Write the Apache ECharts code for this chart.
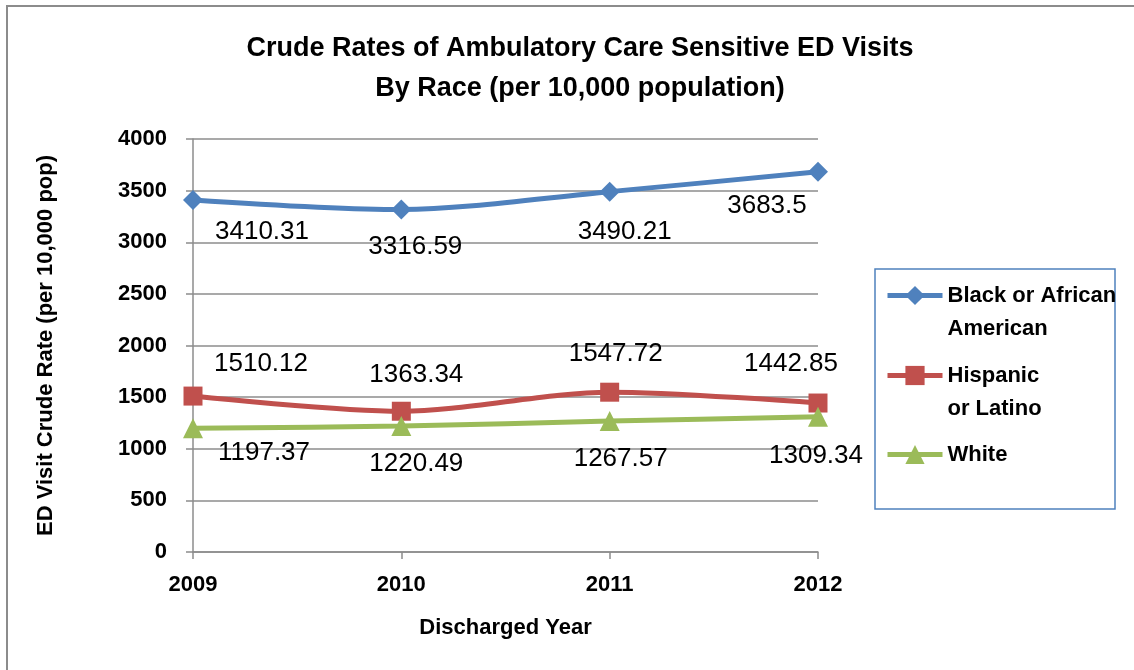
<!DOCTYPE html>
<html>
<head>
<meta charset="utf-8">
<title>Crude Rates of Ambulatory Care Sensitive ED Visits</title>
<script src="https://cdn.jsdelivr.net/npm/echarts@6/dist/echarts.min.js"></script>
<style>
  html, body { margin: 0; padding: 0; background: #fff; }
  #main { width: 1134px; height: 670px; }
</style>
</head>
<body>
<div id="main"></div>
<script>
const years = ['2009', '2010', '2011', '2012']
const black = [3410.31, 3316.59, 3490.21, 3683.5]
const hispanic = [1510.12, 1363.34, 1547.72, 1442.85]
const white = [1197.37, 1220.49, 1267.57, 1309.34]
const yTicks = [0, 500, 1000, 1500, 2000, 2500, 3000, 3500, 4000]

// label offsets, the labels were moved by hand in the original
const blackOff = [[69, 32], [14, 37], [15, 40], [-51, 34]]
const hispOff = [[68, -32], [15, -36], [6, -38], [-27, -39]]
const whiteOff = [[71, 24], [15, 38], [11, 38], [-2, 39]]

const FONT = 'Liberation Sans'
const GRID = '#8c8c8c'

function pts(vals, offs) {
  return vals.map((v, i) => ({
    value: v,
    label: { offset: offs[i] }
  }))
}

function lineSeries(name, vals, offs, color, symbol, size) {
  return {
    name: name,
    type: 'line',
    smooth: 0.3,
    data: pts(vals, offs),
    symbol: symbol,
    symbolSize: size,
    showAllSymbol: true,
    itemStyle: { color: color },
    lineStyle: { color: color, width: 5 },
    label: {
      show: true,
      position: 'inside',
      color: '#000',
      fontFamily: FONT,
      fontSize: 26,
      formatter: p => String(p.value)
    },
    emphasis: { disabled: true },
    animation: false
  }
}

const chart = echarts.init(document.getElementById('main'))
const legendText = { fontFamily: FONT, fontWeight: 'bold', fontSize: 22, color: '#000', lineHeight: 33 }
const legendBase = {
  left: 880,
  itemWidth: 55,
  itemHeight: 24,
  itemStyle: { borderWidth: 0 },
  lineStyle: { width: 5 },
  textStyle: legendText,
  selectedMode: false
}

chart.setOption({
  backgroundColor: '#fff',
  title: {
    text: 'Crude Rates of Ambulatory Care Sensitive ED Visits\nBy Race (per 10,000 population)',
    left: 575,
    top: 24,
    textAlign: 'center',
    textStyle: { fontFamily: FONT, fontWeight: 'bold', fontSize: 27, lineHeight: 40, color: '#000' }
  },
  grid: { left: 193, right: 316, top: 139, bottom: 118, containLabel: false },
  legend: [
    // blank first line keeps the marker level with the first text line
    Object.assign({}, legendBase, {
      top: 241,
      data: ['Black or African American'],
      formatter: () => '\nBlack or African\nAmerican'
    }),
    Object.assign({}, legendBase, {
      top: 321,
      data: ['Hispanic or Latino'],
      formatter: () => '\nHispanic\nor Latino'
    }),
    Object.assign({}, legendBase, {
      top: 433,
      data: ['White']
    })
  ],
  xAxis: {
    type: 'category',
    data: years,
    boundaryGap: false,
    name: 'Discharged Year',
    nameLocation: 'middle',
    nameGap: 65,
    nameTextStyle: { fontFamily: FONT, fontWeight: 'bold', fontSize: 22, color: '#000' },
    axisLine: { lineStyle: { color: GRID, width: 1.5 } },
    axisTick: { show: true, length: 7, alignWithLabel: true, lineStyle: { color: GRID, width: 1.5 } },
    axisLabel: { fontFamily: FONT, fontWeight: 'bold', fontSize: 22, color: '#000', margin: 22 },
    splitLine: { show: false }
  },
  yAxis: {
    type: 'value',
    min: yTicks[0],
    max: yTicks[yTicks.length - 1],
    interval: 500,
    name: 'ED Visit Crude Rate (per 10,000 pop)',
    nameLocation: 'middle',
    nameGap: 136,
    nameRotate: 90,
    nameTextStyle: { fontFamily: FONT, fontWeight: 'bold', fontSize: 22, color: '#000' },
    axisLine: { show: true, lineStyle: { color: GRID, width: 1.5 } },
    axisTick: { show: true, length: 7, lineStyle: { color: GRID, width: 1.5 } },
    axisLabel: {
      fontFamily: FONT, fontWeight: 'bold', fontSize: 22, color: '#000', margin: 26,
      formatter: v => String(v)
    },
    splitLine: { show: true, lineStyle: { color: GRID, width: 1.5 } }
  },
  series: [
    lineSeries('Black or African American', black, blackOff, '#4F81BD', 'diamond', 20),
    lineSeries('Hispanic or Latino', hispanic, hispOff, '#C0504D', 'rect', 19),
    lineSeries('White', white, whiteOff, '#9BBB59', 'triangle', 20)
  ],
  graphic: [
    {
      type: 'rect',
      shape: { x: 875, y: 269, width: 240, height: 240 },
      style: { fill: null, stroke: '#4F81BD', lineWidth: 1.5 },
      silent: true
    },
    {
      type: 'polyline',
      shape: { points: [[7, 670], [7, 6], [1134, 6]] },
      style: { fill: null, stroke: '#8c8c8c', lineWidth: 2 },
      silent: true
    }
  ]
})
</script>
</body>
</html>
